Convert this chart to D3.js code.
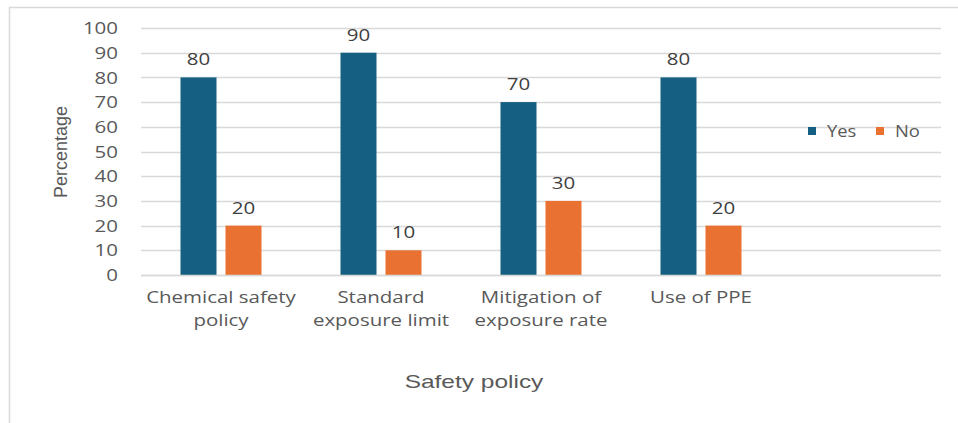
<!DOCTYPE html>
<html>
<head>
<meta charset="utf-8">
<script src="https://cdn.jsdelivr.net/npm/d3@7"></script>
<style>
  html, body { margin: 0; padding: 0; background: #fff; }
  svg { display: block; }
</style>
</head>
<body>
<svg id="chart" width="958" height="423"></svg>
<script>
const categories = ["Chemical safety\npolicy", "Standard\nexposure limit", "Mitigation of\nexposure rate", "Use of PPE", ""];
const seriesNames = ["Yes", "No"];
const yesValues = [80, 90, 70, 80, null];
const noValues = [20, 10, 30, 20, null];
const yTicks = [0, 10, 20, 30, 40, 50, 60, 70, 80, 90, 100];
const colors = ["#156082", "#E97132"];
const yTitle = "Percentage";
const xTitle = "Safety policy";

const svg = d3.select("#chart");
const font = "'Open Sans', sans-serif";
const narrow = "'Liberation Sans Narrow', 'Liberation Sans', sans-serif";
const textColor = "#595959";
const sx = 1.28; // horizontal stretch of text seen in reference

// outer frame
svg.append("rect").attr("x", 9.5).attr("y", 7.5).attr("width", 960).attr("height", 430)
  .attr("fill", "none").attr("stroke", "#d9d9d9").attr("stroke-width", 1.5);

const x0 = d3.scaleBand().domain(d3.range(categories.length)).range([141, 941]);
const y = d3.scaleLinear().domain([0, 100]).range([275, 28]);
const x1 = d3.scaleBand().domain(seriesNames).range([0, 81]).paddingInner(0.2);

// gridlines
svg.append("g").selectAll("line").data(yTicks).join("line")
  .attr("x1", 141).attr("x2", 941)
  .attr("y1", d => Math.round(y(d)) + 0.5).attr("y2", d => Math.round(y(d)) + 0.5)
  .attr("stroke", "#d9d9d9").attr("stroke-width", 1.5);

// y axis labels
const yAxis = d3.axisLeft(y).tickValues(yTicks).tickSize(0).tickPadding(0);
const yg = svg.append("g").attr("transform", "translate(118,0)").call(yAxis);
yg.select(".domain").remove();
yg.selectAll("text").attr("font-family", font).attr("font-size", 16).attr("fill", textColor)
  .attr("dy", "0.35em").attr("transform", `scale(${sx},1)`);

const data = categories.map((c, i) => ({ i, values: [yesValues[i], noValues[i]] }));

const groups = svg.append("g").selectAll("g").data(data).join("g")
  .attr("transform", d => `translate(${x0(d.i) + (x0.bandwidth() - 81) / 2},0)`);

const items = d => d.values.map((v, k) => ({ k, v })).filter(e => e.v != null);

groups.selectAll("rect").data(items).join("rect")
  .attr("x", e => x1(seriesNames[e.k]))
  .attr("width", x1.bandwidth())
  .attr("y", e => y(e.v))
  .attr("height", e => y(0) - y(e.v))
  .attr("fill", e => colors[e.k]);

groups.selectAll("g.lbl").data(items).join("g")
  .attr("class", "lbl")
  .attr("transform", e => `translate(${x1(seriesNames[e.k]) + x1.bandwidth() / 2},${y(e.v) - 12})`)
  .append("text")
  .attr("text-anchor", "middle")
  .attr("transform", `scale(${sx},1)`)
  .attr("font-family", font).attr("font-size", 16).attr("fill", "#404040")
  .text(e => e.v);

// x axis line
svg.append("line").attr("x1", 141).attr("x2", 941).attr("y1", 275.5).attr("y2", 275.5)
  .attr("stroke", "#d9d9d9").attr("stroke-width", 1.5);

// category labels
const xAxis = d3.axisBottom(x0).tickSize(0).tickFormat(() => "");
const xg = svg.append("g").attr("transform", "translate(0,275)").call(xAxis);
xg.select(".domain").remove();
xg.selectAll(".tick").each(function(d) {
  const lines = categories[d].split("\n");
  const t = d3.select(this).append("text")
    .attr("text-anchor", "middle").attr("font-family", font).attr("font-size", 16).attr("fill", textColor)
    .attr("transform", `scale(${sx},1)`);
  lines.forEach((l, j) => t.append("tspan").attr("x", 0).attr("y", 28 + j * 23).text(l));
});

// axis titles
svg.append("text").attr("transform", "translate(67,152) rotate(-90)")
  .attr("text-anchor", "middle").attr("font-family", narrow).attr("font-size", 18).attr("fill", textColor)
  .text(yTitle);
svg.append("text").attr("transform", "translate(474,388) scale(1.36,1)")
  .attr("text-anchor", "middle").attr("font-family", narrow).attr("font-size", 18).attr("fill", textColor)
  .text(xTitle);

// legend
const legend = svg.append("g");
const legendX = [808, 876];
seriesNames.forEach((s, k) => {
  legend.append("rect").attr("x", legendX[k]).attr("y", 127).attr("width", 8).attr("height", 8).attr("fill", colors[k]);
  legend.append("text").attr("transform", `translate(${legendX[k] + 19},137) scale(1.15,1)`)
    .attr("font-family", font).attr("font-size", 16).attr("fill", textColor)
    .text(s);
});
</script>
</body>
</html>
